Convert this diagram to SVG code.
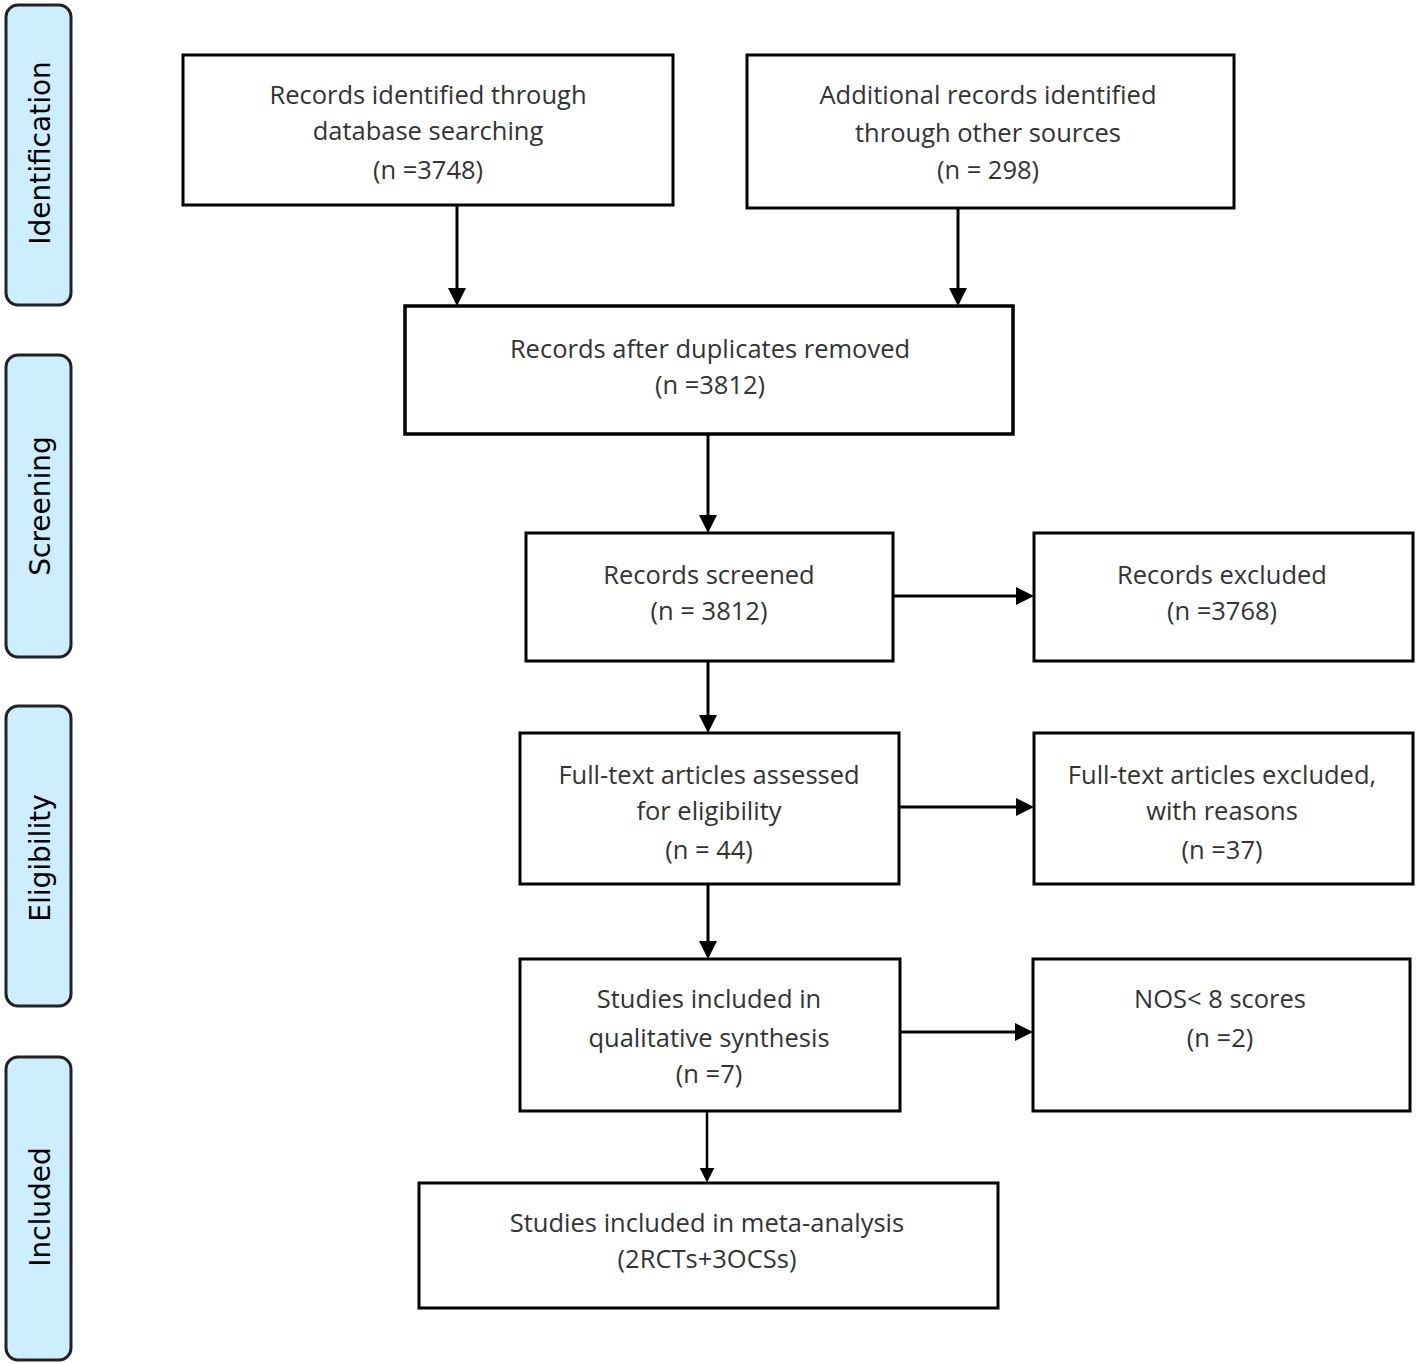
<svg xmlns="http://www.w3.org/2000/svg" width="1418" height="1364" viewBox="0 0 1418 1364">
<style>
.box{fill:#fff;stroke:#000;stroke-width:3}
.stage{fill:#cceeff;stroke:#222;stroke-width:3}
.t{font-family:"Open Sans","Liberation Sans",sans-serif;font-size:25.5px;fill:#333;text-anchor:middle}
.s{font-family:"DejaVu Sans","Liberation Sans",sans-serif;font-size:28px;fill:#000;text-anchor:middle}
.c{stroke:#000;stroke-width:3;fill:none;marker-end:url(#ah)}
</style>
<defs>
<marker id="ah" markerWidth="6" markerHeight="6" refX="5" refY="3" orient="auto" markerUnits="strokeWidth">
<path d="M0,0 L6,3 L0,6 Z" fill="#000"/>
</marker>
</defs>
<g id="stage-identification"><rect class="stage" x="6" y="5" width="65" height="300" rx="12"/><text class="s" transform="translate(50,153) rotate(-90)">Identification</text></g>
<g id="stage-screening"><rect class="stage" x="6" y="355" width="65" height="302" rx="12"/><text class="s" transform="translate(50,506) rotate(-90)">Screening</text></g>
<g id="stage-eligibility"><rect class="stage" x="6" y="706" width="65" height="300" rx="12"/><text class="s" transform="translate(50,858) rotate(-90)">Eligibility</text></g>
<g id="stage-included"><rect class="stage" x="6" y="1057" width="65" height="303" rx="12"/><text class="s" transform="translate(50,1207) rotate(-90)">Included</text></g>

<g id="n1"><rect class="box" x="183" y="55" width="490" height="150"/>
<text class="t" x="428" y="104">Records identified  through</text>
<text class="t" x="428" y="140">database searching</text>
<text class="t" x="428" y="179">(n =3748)</text></g>
<g id="n2"><rect class="box" x="747" y="55" width="487" height="153"/>
<text class="t" x="988" y="104">Additional  records identified</text>
<text class="t" x="988" y="142">through other sources</text>
<text class="t" x="988" y="179">(n = 298)</text></g>
<g id="n3"><rect class="box" x="405" y="306" width="608" height="128" style="stroke-width:3.5"/>
<text class="t" x="710" y="358">Records after duplicates removed</text>
<text class="t" x="710" y="394">(n =3812)</text></g>
<g id="n4"><rect class="box" x="526" y="533" width="367" height="128"/>
<text class="t" x="709" y="584">Records screened</text>
<text class="t" x="709" y="620">(n = 3812)</text></g>
<g id="n5"><rect class="box" x="1034" y="533" width="379" height="128"/>
<text class="t" x="1222" y="584">Records excluded</text>
<text class="t" x="1222" y="620">(n =3768)</text></g>
<g id="n6"><rect class="box" x="520" y="733" width="379" height="151"/>
<text class="t" x="709" y="784">Full-text articles assessed</text>
<text class="t" x="709" y="820">for eligibility</text>
<text class="t" x="709" y="859">(n = 44)</text></g>
<g id="n7"><rect class="box" x="1034" y="733" width="379" height="151"/>
<text class="t" x="1222" y="784">Full-text articles excluded,</text>
<text class="t" x="1222" y="820">with reasons</text>
<text class="t" x="1222" y="859">(n =37)</text></g>
<g id="n8"><rect class="box" x="520" y="959" width="380" height="152"/>
<text class="t" x="709" y="1008">Studies included in</text>
<text class="t" x="709" y="1047">qualitative synthesis</text>
<text class="t" x="709" y="1083">(n =7)</text></g>
<g id="n9"><rect class="box" x="1033" y="959" width="377" height="152"/>
<text class="t" x="1220" y="1008">NOS&lt; 8 scores</text>
<text class="t" x="1220" y="1047">(n =2)</text></g>
<g id="n10"><rect class="box" x="419" y="1183" width="579" height="125"/>
<text class="t" x="707" y="1232">Studies included in meta-analysis</text>
<text class="t" x="707" y="1268">(2RCTs+3OCSs)</text></g>

<g id="connectors">
<line class="c" x1="457" y1="206" x2="457" y2="303"/>
<line class="c" x1="958" y1="209" x2="958" y2="303"/>
<line class="c" x1="708" y1="435" x2="708" y2="530"/>
<line class="c" x1="708" y1="662" x2="708" y2="730"/>
<line class="c" x1="708" y1="885" x2="708" y2="956"/>
<line class="c" x1="707" y1="1112" x2="707" y2="1180" style="stroke-width:2.5"/>
<line class="c" x1="894" y1="596" x2="1031" y2="596"/>
<line class="c" x1="900" y1="807" x2="1031" y2="807"/>
<line class="c" x1="901" y1="1032" x2="1030" y2="1032"/>
</g>
</svg>
